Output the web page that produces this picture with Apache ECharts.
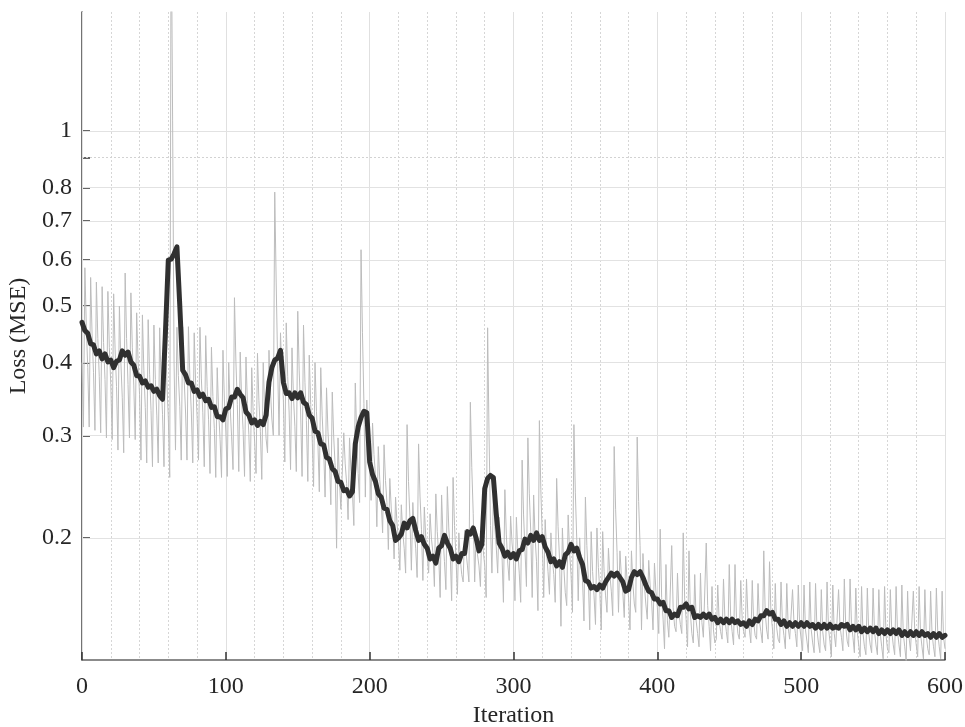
<!DOCTYPE html>
<html><head><meta charset="utf-8">
<script src="https://cdn.jsdelivr.net/npm/echarts@6/dist/echarts.min.js"></script>
<style>html,body{margin:0;padding:0;background:#fff}#c{width:965px;height:727px}</style>
</head><body><div id="c"></div>
<script>
// Raw training loss, one value per iteration (0..600)
const rawLoss = [
.40,.31,.582,.460, .392,.31,.56,.448, .385,.306,.55,.440, .379,.303,.54,.433, .374,.297,.53,.425,
.367,.295,.525,.422, .364,.283,.50,.402, .348,.28,.57,.440, .367,.297,.527,.424, .366,.295,.487,.401,
.353,.272,.483,.388, .335,.269,.474,.382, .331,.265,.464,.374, .325,.269,.459,.374, .326,.265,.455,.370,
.322,.254,2.5,1.04, .40,.283,.46,.380, .336,.272,.461,.376, .329,.272,.461,.376, .329,.269,.45,.369,
.323,.272,.46,.375, .328,.265,.445,.364, .319,.258,.425,.350, .308,.254,.392,.330, .295,.254,.42,.345,
.304,.255,.40,.335, .299,.262,.517,.402, .339,.26,.417,.346, .307,.255,.409,.340, .301,.25,.392,.328,
.293,.258,.415,.344, .305,.252,.40,.333, .296,.28,.42,.36, .32,.30,.785,.55, .40,.30,.45,.383,
.345,.27,.468,.379, .329,.262,.424,.351, .311,.26,.49,.387, .329,.255,.464,.370, .318,.25,.412,.339,
.299,.245,.40,.330, .292,.24,.392,.324, .286,.235,.362,.305, .273,.228,.356,.298, .266,.192,.297,.250,
.224,.225,.303,.268, .248,.215,.297,.260, .240,.21,.369,.297, .258,.23,.625,.45, .34,.235,.345,.296,
.268,.232,.315,.278, .257,.209,.287,.252, .232,.204,.289,.251, .230,.191,.253,.225, .210,.184,.235,.212,
.199,.176,.228,.205, .192,.174,.313,.250, .216,.176,.23,.206, .192,.171,.29,.236, .207,.169,.226,.200,
.186,.174,.22,.199, .188,.165,.238,.205, .187,.158,.237,.201, .182,.163,.245,.208, .188,.156,.254,.210,
.185,.16,.204,.184, .173,.168,.206,.189, .179,.168,.342,.264, .220,.168,.203,.187, .179,.165,.21,.190,
.179,.158,.459,.30, .21,.174,.238,.209, .193,.174,.217,.198, .187,.155,.242,.203, .181,.169,.218,.196,
.184,.156,.217,.190, .174,.155,.272,.219, .190,.165,.297,.238, .205,.158,.237,.201, .182,.15,.318,.242,
.200,.158,.215,.189, .175,.16,.204,.184, .173,.155,.253,.209, .184,.141,.208,.178, .161,.153,.219,.189,
.173,.149,.313,.239, .198,.156,.20,.180, .169,.144,.235,.194, .171,.139,.205,.175, .159,.142,.208,.178,
.162,.139,.205,.175, .159,.149,.192,.173, .162,.147,.287,.224, .189,.149,.19,.172, .161,.146,.186,.168,
.158,.139,.19,.167, .154,.149,.298,.231, .194,.139,.188,.166, .154,.145,.183,.166, .156,.139,.181,.162,
.152,.137,.207,.158, .145,.129,.18,.144, .135,.134,.194,.152, .141,.138,.174,.149, .142,.137,.204,.157,
.145,.13,.19,.148, .137,.132,.173,.144, .137,.13,.174,.143, .135,.134,.196,.153, .141,.128,.165,.139,
.132,.134,.166,.144, .138,.134,.17,.145, .138,.132,.18,.146, .138,.131,.18,.146, .137,.134,.169,.145,
.138,.135,.17,.146, .139,.132,.169,.143, .136,.134,.167,.144, .138,.132,.19,.149, .139,.134,.182,.148,
.140,.129,.167,.140, .134,.132,.168,.143, .136,.129,.167,.140, .134,.134,.163,.143, .137,.13,.166,.141,
.134,.128,.166,.139, .133,.127,.168,.139, .132,.127,.167,.139, .132,.127,.163,.138, .131,.128,.168,.140,
.133,.125,.166,.137, .130,.131,.163,.141, .135,.128,.17,.141, .133,.13,.17,.142, .135,.127,.164,.138,
.131,.125,.165,.137, .130,.126,.164,.137, .131,.127,.164,.138, .131,.126,.163,.137, .130,.124,.165,.136,
.129,.127,.163,.138, .131,.126,.165,.138, .131,.125,.166,.137, .130,.123,.162,.135, .128,.127,.162,.138,
.131,.125,.165,.137, .130,.124,.163,.136, .129,.126,.162,.137, .130,.125,.164,.137, .130,.124,.162,.135,
.129
];

// Smoothed loss, sampled every 2 iterations (0..600)
const smoothStep = 2;
const smoothLoss = [
.469,.454,.449,.431,.429,.414,.419,.406,.414,.401,
.404,.392,.402,.404,.419,.412,.417,.401,.396,.380,
.379,.369,.372,.363,.365,.357,.360,.351,.346,.45,
.60,.602,.615,.632,.50,.388,.381,.369,.369,.357,
.359,.350,.353,.344,.346,.335,.336,.323,.323,.319,
.333,.335,.349,.349,.360,.353,.348,.329,.325,.315,
.319,.312,.317,.313,.325,.37,.392,.404,.407,.42,
.37,.354,.355,.347,.355,.348,.355,.342,.339,.325,
.321,.305,.303,.290,.289,.275,.273,.263,.260,.250,
.249,.241,.242,.236,.24,.29,.31,.322,.33,.328,
.27,.257,.250,.238,.235,.225,.224,.214,.210,.198,
.200,.203,.212,.208,.214,.216,.206,.198,.201,.195,
.192,.184,.186,.181,.192,.194,.202,.196,.192,.184,
.186,.182,.188,.188,.205,.203,.208,.200,.19,.195,
.243,.253,.256,.254,.22,.196,.192,.186,.189,.185,
.188,.184,.190,.191,.199,.196,.202,.198,.204,.198,
.201,.193,.189,.182,.184,.179,.182,.178,.187,.189,
.195,.190,.192,.185,.180,.169,.168,.164,.165,.163,
.166,.164,.168,.171,.174,.172,.174,.171,.168,.162,
.163,.171,.175,.173,.175,.171,.166,.162,.161,.157,
.157,.154,.155,.150,.150,.146,.148,.147,.152,.152,
.154,.151,.152,.146,.147,.146,.148,.146,.148,.145,
.146,.143,.145,.143,.145,.143,.145,.143,.144,.142,
.143,.141,.144,.142,.145,.144,.147,.147,.150,.148,
.149,.145,.145,.142,.144,.141,.143,.141,.143,.141,
.143,.141,.143,.141,.142,.140,.142,.140,.142,.140,
.142,.140,.141,.140,.142,.141,.142,.139,.141,.139,
.141,.138,.140,.138,.140,.138,.140,.137,.139,.137,
.139,.137,.139,.137,.139,.136,.138,.136,.138,.136,
.138,.136,.138,.136,.137,.135,.137,.135,.137,.135,
.136
];

const xRange = [0, 600];
const xMajorStep = 100;
const xMinorStep = 20;
const yRange = [0.1234, 1.6];
const yTickLabels = [0.2, 0.3, 0.4, 0.5, 0.6, 0.7, 0.8, 1];
const yMinorGrid = [0.9];

const FONT = 'Liberation Serif';
const rawData = rawLoss.map((v, i) => [i, v]);
const smoothData = smoothLoss.map((v, i) => [i * smoothStep, v]);

const gridLines = yTickLabels.map(v => ({ yAxis: v, lineStyle: { color: '#e2e2e2', width: 1, type: 'solid' } }))
  .concat(yMinorGrid.map(v => ({ yAxis: v, lineStyle: { color: '#d2d2d2', width: 1, type: [2, 2] } })));

const chart = echarts.init(document.getElementById('c'), null, { renderer: 'canvas' });
chart.setOption({
  animation: false,
  backgroundColor: '#ffffff',
  grid: { left: 82, right: 20, top: 12, bottom: 67, containLabel: false, outerBoundsMode: 'none' },
  xAxis: [
    {
      type: 'value', min: xRange[0], max: xRange[1], interval: xMajorStep,
      name: 'Iteration', nameLocation: 'middle', nameGap: 44,
      nameTextStyle: { fontFamily: FONT, fontSize: 24, color: '#262626' },
      axisLine: { show: true, lineStyle: { color: '#666', width: 1.5 } },
      axisTick: { show: true, inside: true, length: 8, lineStyle: { color: '#333', width: 1.5 } },
      axisLabel: { fontFamily: FONT, fontSize: 24, color: '#262626', margin: 15 },
      splitLine: { show: true, lineStyle: { color: '#e0e0e0', width: 1 } },
      z: 1
    },
    {
      type: 'value', min: xRange[0], max: xRange[1], interval: xMinorStep, position: 'bottom',
      axisLine: { show: false }, axisTick: { show: false }, axisLabel: { show: false },
      splitLine: { show: true, lineStyle: { color: '#d6d6d6', width: 1, type: [2, 2] } },
      z: 0
    }
  ],
  yAxis: {
    type: 'log', logBase: 10, min: yRange[0], max: yRange[1],
    name: 'Loss (MSE)', nameLocation: 'middle', nameGap: 47, nameRotate: 90,
    nameTextStyle: { fontFamily: FONT, fontSize: 24, color: '#262626' },
    axisLine: { show: true, lineStyle: { color: '#444', width: 1.5 } },
    axisTick: { show: true, inside: true, length: 8, lineStyle: { color: '#333', width: 1.5 },
      customValues: yTickLabels.concat(yMinorGrid) },
    axisLabel: { fontFamily: FONT, fontSize: 24, color: '#262626', margin: 10,
      customValues: yTickLabels,
      formatter: v => String(Math.round(v * 10) / 10) },
    splitLine: { show: false },
    minorSplitLine: { show: false }
  },
  series: [
    {
      type: 'line', name: 'raw', data: rawData, showSymbol: false, symbol: 'none',
      lineStyle: { color: '#bcbcbc', width: 1 }, z: 2, silent: true,
      markLine: { silent: true, symbol: 'none', label: { show: false }, z: 1, data: gridLines, animation: false }
    },
    {
      type: 'line', name: 'smooth', data: smoothData, showSymbol: false, symbol: 'none',
      lineStyle: { color: '#303030', width: 5, join: 'round', cap: 'round' }, z: 3, silent: true
    }
  ]
});
</script>
</body></html>
